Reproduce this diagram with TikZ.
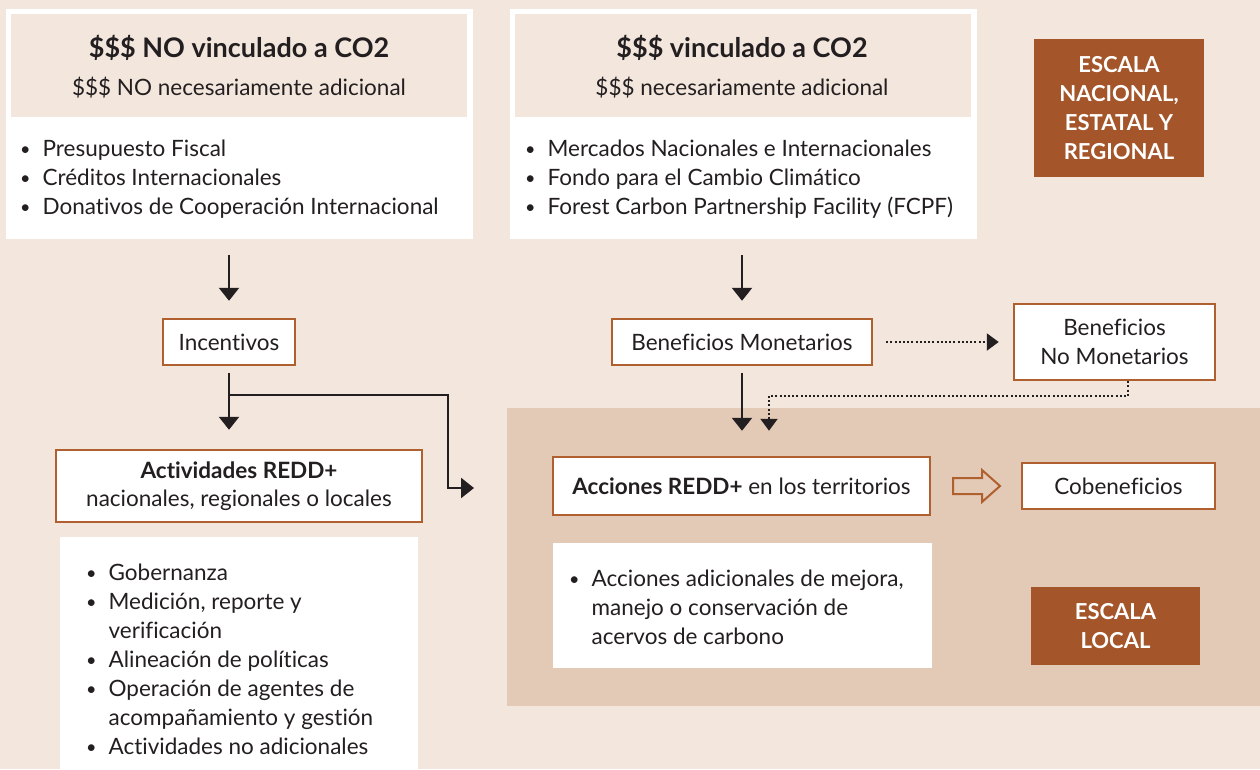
\documentclass[tikz,border=0pt]{standalone}
\usepackage{fontspec}
\setmainfont{Lato}[Ligatures=NoCommon]
\usetikzlibrary{arrows.meta,calc}
\definecolor{bgc}{HTML}{F3E6DD}
\definecolor{darkc}{HTML}{E3CAB7}
\definecolor{brn}{HTML}{A4552A}
\definecolor{brd}{HTML}{B0602F}
\definecolor{txt}{HTML}{231F20}
\newcommand\bl{\raisebox{1.2pt}{\fontsize{18}{18}\selectfont\textbullet}}
\begin{document}
\begin{tikzpicture}[x=1pt,y=-1pt, font=\fontsize{22.5}{29}\selectfont, text=txt,
  panel/.style={fill=white, inner sep=0},
  hdr/.style={fill=bgc, inner sep=0},
  box/.style={draw=brd, line width=2.5pt, fill=white, inner sep=0, align=center},
  scalebox/.style={fill=brn, text=white, font=\bfseries\fontsize{22}{29}\selectfont, align=center, inner sep=0},
  ttl/.style={font=\bfseries\fontsize{27}{30}\selectfont, anchor=base, inner sep=0},
  sub/.style={anchor=base, inner sep=0},
  lst/.style={anchor=north west, inner sep=0, align=left},
  arr/.style={draw=txt, line width=2.5pt, -{Triangle[width=20pt,length=13pt]}},
  dotarr/.style={draw=txt, line width=2.2pt, dash pattern=on 2pt off 2.2pt, -{Triangle[width=17pt,length=12pt]}}]
\useasboundingbox (0,0) rectangle (1260,769);
\fill[bgc] (0,0) rectangle (1260,769);
\node[fill=darkc, inner sep=0, minimum width=753pt, minimum height=298pt] (local) at (883.5,557) {};

% top left
\node[panel, minimum width=467pt, minimum height=230pt] (b1) at (239.5,124) {};
\node[hdr, minimum width=456pt, minimum height=103pt] (h1) at (239,65.5) {};
\node[ttl] (t1) at (239,57.5) {\$\$\$ NO vinculado a CO2};
\node[sub] (s1) at (239,95) {\$\$\$ NO necesariamente adicional};
\node[lst] (l1) at (20,136) {\begin{tabular}{@{}l@{\hspace{12pt}}l@{}}
\bl & Presupuesto Fiscal\\
\bl & Créditos Internacionales\\
\bl & Donativos de Cooperación Internacional
\end{tabular}};

% top right
\node[panel, minimum width=467pt, minimum height=230pt] (b2) at (743.5,124) {};
\node[hdr, minimum width=456pt, minimum height=103pt] (h2) at (743,65.5) {};
\node[ttl] (t2) at (742,57.5) {\$\$\$ vinculado a CO2};
\node[sub] (s2) at (742,95) {\$\$\$ necesariamente adicional};
\node[lst] (l2) at (525,136) {\begin{tabular}{@{}l@{\hspace{12pt}}l@{}}
\bl & Mercados Nacionales e Internacionales\\
\bl & Fondo para el Cambio Climático\\
\bl & Forest Carbon Partnership Facility (FCPF)
\end{tabular}};

\node[scalebox, minimum width=170pt, minimum height=138pt] (esc1) at (1119,108) {ESCALA\\NACIONAL,\\ESTATAL Y\\REGIONAL};

% left column
\node[box, minimum width=132pt, minimum height=46pt] (inc) at (229,342) {Incentivos};
\node[box, minimum width=366pt, minimum height=72pt, font=\fontsize{22.5}{28}\selectfont] (act) at (239,486) {\textbf{Actividades REDD+}\\nacionales, regionales o locales};
\node[panel, minimum width=358pt, minimum height=232pt] (p3) at (239,653) {};
\node[lst] (l3) at (86,560) {\begin{tabular}{@{}l@{\hspace{12pt}}l@{}}
\bl & Gobernanza\\
\bl & Medición, reporte y\\
 & verificación\\
\bl & Alineación de políticas\\
\bl & Operación de agentes de\\
 & acompañamiento y gestión\\
\bl & Actividades no adicionales
\end{tabular}};

% right column
\node[box, minimum width=260pt, minimum height=46pt] (bm) at (742,342) {Beneficios Monetarios};
\node[box, minimum width=201pt, minimum height=76pt] (bnm) at (1114.5,342) {Beneficios\\No Monetarios};
\node[box, minimum width=377pt, minimum height=58pt] (acc) at (741.5,486) {\textbf{Acciones REDD+} en los territorios};
\node[box, minimum width=193pt, minimum height=46pt] (cob) at (1118.5,486) {Cobeneficios};
\node[panel, minimum width=379pt, minimum height=125pt] (p4) at (742.5,605.5) {};
\node[lst] (l4) at (569,566) {\begin{tabular}{@{}l@{\hspace{12pt}}l@{}}
\bl & Acciones adicionales de mejora,\\
 & manejo o conservación de\\
 & acervos de carbono
\end{tabular}};
\node[scalebox, minimum width=169pt, minimum height=78pt] (esc2) at (1115.5,626) {ESCALA\\LOCAL};

% hollow arrow
\draw[draw=brd, line width=2pt, fill=darkc, line join=miter] (953,478) -- (982,478) -- (982,470) -- (1000,486) -- (982,502) -- (982,494) -- (953,494) -- cycle;

% connectors
\draw[arr, shorten <=16pt, shorten >=17pt] (inc.north |- b1.south) -- (inc.north);
\draw[arr, shorten <=7pt, shorten >=19pt] (inc.south) -- (inc.south |- act.north);
\coordinate (br) at (229,395);
\coordinate (lend) at (474,488);
\draw[arr] (br) -| ($(lend)+(-26,0)$) -- (lend);

\draw[arr, shorten <=16pt, shorten >=17pt] (bm.north |- b2.south) -- (bm.north);
\draw[dotarr, shorten <=13pt, shorten >=14pt] (bm.east) -- (bnm.west);
\draw[arr, shorten <=7pt, shorten >=25pt] (bm.south) -- (bm.south |- acc.north);
\coordinate (dk) at (769,396);
\draw[dotarr, shorten >=25pt] ([xshift=13.5pt]bnm.south) |- (dk) -- (dk |- acc.north);
\end{tikzpicture}
\end{document}
